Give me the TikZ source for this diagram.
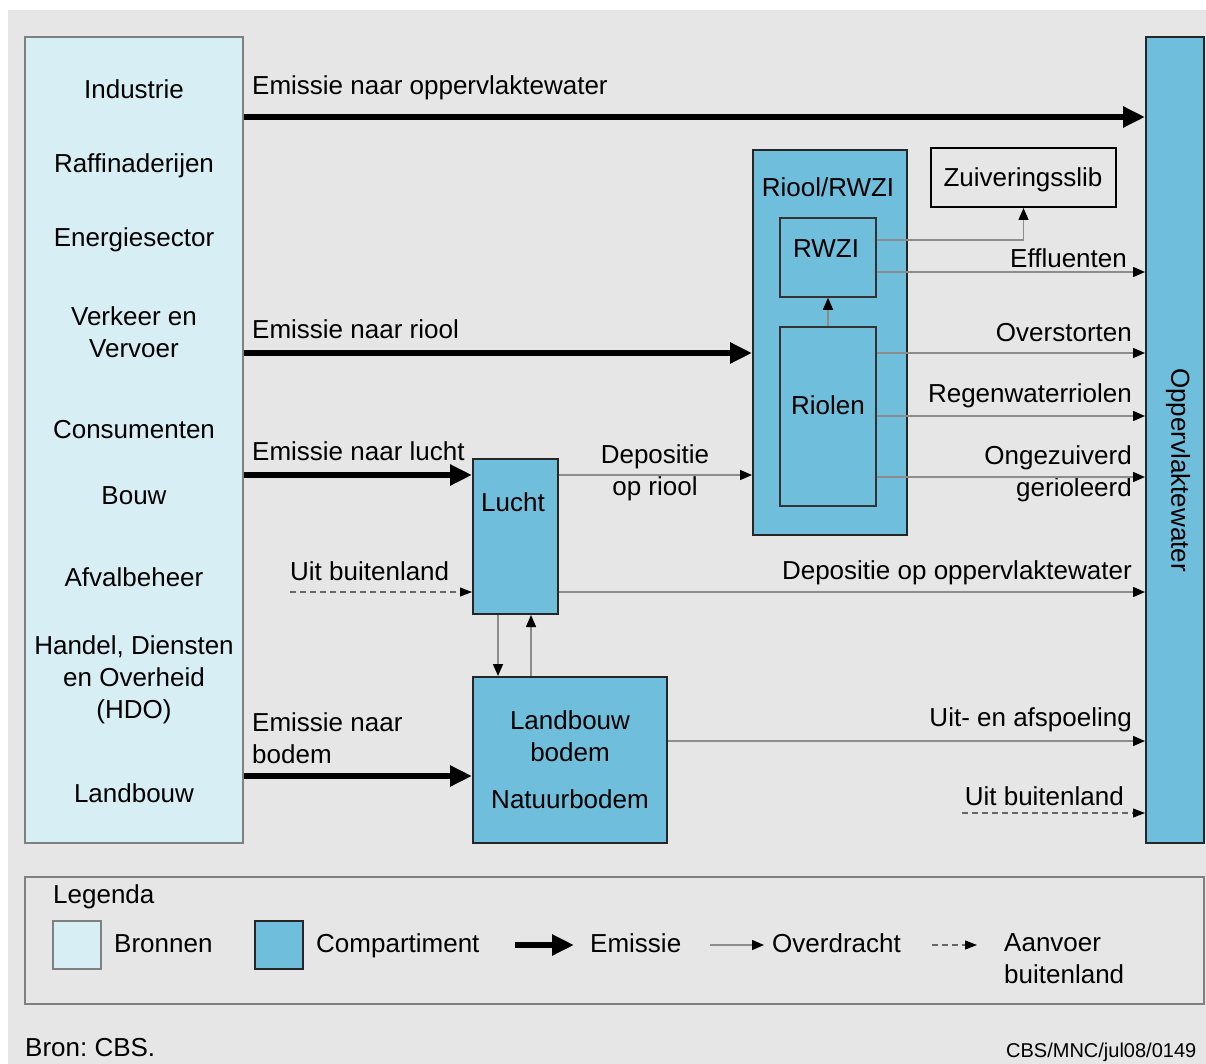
\documentclass[tikz,border=0pt]{standalone}
\usepackage{fontspec}
\setmainfont{Liberation Sans}
\usetikzlibrary{arrows.meta}
\frenchspacing
\definecolor{achter}{RGB}{230,230,230}
\definecolor{bronkleur}{RGB}{216,238,245}
\definecolor{compkleur}{RGB}{110,190,220}
\definecolor{lijnkleur}{RGB}{140,140,140}
\begin{document}
\begin{tikzpicture}[x=1pt,y=-1pt,
  every node/.style={font=\fontsize{26}{32}\selectfont,inner sep=0pt,align=center},
  bronbox/.style={draw=gray,fill=bronkleur,line width=1.5pt},
  compbox/.style={draw=black!85,fill=compkleur,line width=2pt},
  innerbox/.style={draw=black!80,line width=1.5pt},
  emis/.style={draw,line width=6pt,-{Triangle[length=22pt,width=20pt]}},
  over/.style={draw=lijnkleur,line width=1.5pt,-{Triangle[length=12pt,width=10pt,color=black]}},
  aanv/.style={draw=black!60,line width=1.2pt,dash pattern=on 6pt off 4pt,-{Triangle[length=12pt,width=9pt,color=black]}}]
  \useasboundingbox (0,0) rectangle (1206,1064);
  \fill[white] (0,0) rectangle (1206,1064);
  \fill[achter] (8,10) rectangle (1206,1064);
  % Nodes
  \node[bronbox,minimum width=218pt,minimum height=806pt] (bronnen) at (134,440) {};
  \node[compbox,minimum width=58pt,minimum height=806pt] (opp) at (1175,440) {};
  \node[compbox,minimum width=154pt,minimum height=385pt] (riool) at (830,342.5) {};
  \node[innerbox,minimum width=96pt,minimum height=79pt] (rwzi) at (828,257.5) {};
  \node[innerbox,minimum width=96pt,minimum height=179pt] (riolen) at (828,416.5) {};
  \node[draw=black,line width=2pt,minimum width=185pt,minimum height=59pt] (slib) at (1023.5,177.5) {};
  \node[compbox,minimum width=85pt,minimum height=155pt] (lucht) at (515.5,536.5) {};
  \node[compbox,minimum width=194pt,minimum height=166pt] (bodem) at (570,760) {};
  % Box labels
  \node (tInd) at (134,89) {Industrie};
  \node (tRaf) at (134,166) {Raffinaderijen};
  \node (tEne) at (134,240) {Energiesector};
  \node (tVer) at (134,332) {Verkeer en\\Vervoer};
  \node (tCon) at (134,430) {Consumenten};
  \node (tBouw) at (134,496) {Bouw};
  \node (tAfv) at (134,577) {Afvalbeheer};
  \node (tHdo) at (134,680) {Handel, Diensten\\en Overheid\\(HDO)};
  \node (tLand) at (134,793) {Landbouw};
  \node (tOpp) at (1178,470) [rotate=-90] {Oppervlaktewater};
  \node (tRiool) at (828,187) {Riool/RWZI};
  \node (tRwzi) at (826,249) {RWZI};
  \node (tRiolen) at (828,405) {Riolen};
  \node (tSlib) at (1023,180) {Zuiveringsslib};
  \node (tLucht) at (513,502) {Lucht};
  \node (tBodem) at (570,736) {Landbouw\\bodem};
  \node (tNatuur) at (570,799) {Natuurbodem};
  % Edge labels
  \node[anchor=west] (lOpp) at (252,88) {Emissie naar oppervlaktewater};
  \node[anchor=west] (lRiool) at (252,329) {Emissie naar riool};
  \node[anchor=west] (lLucht) at (252,451) {Emissie naar lucht};
  \node[anchor=west,align=left] (lBodem) at (252,738) {Emissie naar\\bodem};
  \node[anchor=west] (lBuit) at (290,571) {Uit buitenland};
  \node (lDepRiool) at (655,473) {Depositie\\op riool};
  \node[anchor=east] (lEffl) at (1127,258) {Effluenten};
  \node[anchor=east] (lOverst) at (1132,333) {Overstorten};
  \node[anchor=east] (lRegen) at (1132,396) {Regenwaterriolen};
  \node[anchor=east,align=right] (lOngez) at (1132,474) {Ongezuiverd\\gerioleerd};
  \node[anchor=east] (lDepOpp) at (1132,573) {Depositie op oppervlaktewater};
  \node[anchor=east] (lSpoel) at (1132,720) {Uit- en afspoeling};
  \node[anchor=east] (lBuit2) at (1124,796) {Uit buitenland};
  \coordinate (buitL) at (290,592);
  \coordinate (buitO) at (962,813);
  % Edges
  \path[emis] (bronnen.east |- 0,117) -- (opp.west |- 0,117);
  \path[emis] (bronnen.east |- 0,353) -- (riool.west |- 0,353);
  \path[emis] (bronnen.east |- 0,475) -- (lucht.west |- 0,475);
  \path[emis] (bronnen.east |- 0,776) -- (bodem.west |- 0,776);
  \path[over] (rwzi.east |- 0,240) -| (slib.south);
  \path[over] (rwzi.east |- 0,272) -- (opp.west |- 0,272);
  \path[over] (riolen.north) -- (rwzi.south);
  \path[over] (riolen.east |- 0,353) -- (opp.west |- 0,353);
  \path[over] (riolen.east |- 0,416) -- (opp.west |- 0,416);
  \path[over] (riolen.east |- 0,477) -- (opp.west |- 0,477);
  \path[over] (lucht.east |- 0,475) -- (riool.west |- 0,475);
  \path[over] (lucht.east |- 0,592) -- (opp.west |- 0,592);
  \path[over] (lucht.south -| 498,0) -- (bodem.north -| 498,0);
  \path[over] (bodem.north -| 531,0) -- (lucht.south -| 531,0);
  \path[over] (bodem.east |- 0,741) -- (opp.west |- 0,741);
  \path[aanv] (buitL) -- (lucht.west |- buitL);
  \path[aanv] (buitO) -- (opp.west |- buitO);
  % Legend
  \node[draw=gray,line width=1.5pt,minimum width=1179pt,minimum height=127pt] (legenda) at (614.5,940.5) {};
  \node[anchor=west] (tLegenda) at (53,897) {Legenda};
  \node[bronbox,minimum width=48pt,minimum height=48pt] (swBron) at (77,945) {};
  \node[anchor=base west] (tBron) at (114,952) {Bronnen};
  \node[compbox,minimum width=48pt,minimum height=48pt] (swComp) at (279,945) {};
  \node[anchor=base west] (tComp) at (316,952) {Compartiment};
  \coordinate (emA) at (515,945);
  \coordinate (emB) at (574,945);
  \path[emis] (emA) -- (emB);
  \node[anchor=base west] (tEmis) at (590,952) {Emissie};
  \coordinate (ovA) at (710,945);
  \coordinate (ovB) at (764,945);
  \path[over] (ovA) -- (ovB);
  \node[anchor=base west] (tOver) at (772,952) {Overdracht};
  \coordinate (aaA) at (932,945);
  \coordinate (aaB) at (977,945);
  \path[aanv] (aaA) -- (aaB);
  \node[anchor=west,align=left] (tAanv) at (1004,959) {Aanvoer\\buitenland};
  % Source
  \node[anchor=west] (tBronCBS) at (25,1048) {Bron: CBS.};
  \node[anchor=west,font=\fontsize{20}{24}\selectfont] (tCode) at (1006,1052) {CBS/MNC/jul08/0149};
\end{tikzpicture}
\end{document}
